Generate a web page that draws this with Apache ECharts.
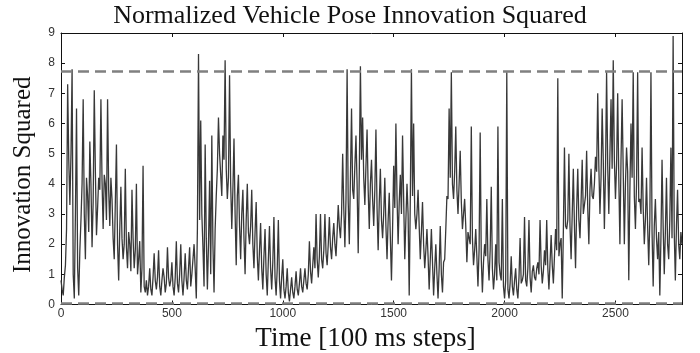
<!DOCTYPE html>
<html>
<head>
<meta charset="utf-8">
<script src="https://cdn.jsdelivr.net/npm/echarts@6/dist/echarts.min.js"></script>
<style>
  html, body { margin: 0; padding: 0; background: #fff; }
  #chart { width: 700px; height: 353px; }
</style>
</head>
<body>
<div id="chart"></div>
<script>
// Normalized innovation squared of the vehicle pose, sampled every 5 steps
const stepSize = 5;
const innovation = [
  0.8,0.5,0.3,0.9,1.3,2.5,7.3,4.8,3.3,5.0,7.8,1.0,0.2,3.0,6.5,1.2,0.3,1.8,2.8,4.0,
  6.8,3.0,1.5,4.2,3.6,2.4,5.4,4.0,1.9,3.4,7.1,4.4,2.3,3.2,4.2,3.8,6.8,4.1,2.5,4.3,
  4.0,2.8,6.8,3.8,2.6,4.2,3.5,2.2,1.5,3.4,5.3,2.0,0.8,2.5,3.9,2.2,1.5,2.0,4.5,1.9,
  1.2,2.4,2.0,1.1,3.8,2.2,1.2,1.8,4.0,1.0,1.5,2.1,0.4,1.2,4.6,0.6,0.4,0.8,0.3,0.6,
  1.2,0.5,0.3,0.9,1.7,0.8,0.5,0.9,1.8,0.6,0.3,0.8,1.2,0.9,0.4,0.7,1.9,0.9,0.6,0.8,
  1.4,0.6,0.3,0.9,2.1,0.7,0.4,1.0,2.0,0.8,0.3,0.9,1.7,0.8,0.5,1.2,1.9,0.6,1.0,1.5,
  2.0,1.2,0.2,2.5,8.3,2.8,6.1,3.0,1.9,0.6,5.3,2.2,0.5,2.0,4.1,1.0,5.6,2.0,0.4,2.5,
  3.6,4.5,6.2,5.0,4.3,3.6,5.6,4.8,8.1,4.5,3.5,4.2,7.6,4.0,2.5,3.8,5.5,3.0,1.3,3.6,
  4.3,2.6,1.5,3.0,3.8,2.2,1.0,2.8,4.0,2.4,2.0,2.6,3.8,2.0,1.2,2.4,3.4,1.6,0.8,1.8,
  2.7,1.2,0.5,1.6,2.5,1.0,0.3,1.5,2.6,1.2,0.5,1.4,2.9,0.9,0.3,1.2,2.8,0.8,0.2,0.9,
  1.5,0.5,0.2,0.6,1.2,0.4,0.1,0.5,0.9,0.4,0.2,0.6,1.1,0.5,0.3,0.7,1.2,0.6,0.4,0.8,
  1.2,0.7,0.5,1.0,2.1,1.1,0.7,1.3,1.9,1.2,3.0,1.5,0.9,1.6,3.0,1.5,1.2,1.8,3.0,1.7,
  1.3,2.0,2.9,1.9,1.5,2.2,2.7,2.0,1.6,2.4,3.3,2.6,2.2,3.0,5.0,3.2,1.9,3.5,7.8,3.4,
  2.0,4.2,6.5,3.8,3.5,4.6,5.6,4.0,1.7,4.4,7.9,4.8,6.2,4.2,3.3,4.6,5.8,3.8,2.5,4.0,
  4.8,3.5,2.6,3.8,5.8,3.2,1.8,3.4,4.5,2.8,2.2,3.0,4.2,2.6,1.5,2.8,3.7,2.2,0.8,2.5,
  4.6,3.2,6.0,3.6,2.0,3.4,4.3,3.0,5.6,3.5,1.5,2.8,4.0,3.0,0.3,3.5,7.8,3.6,6.0,3.0,
  2.5,3.0,3.8,2.6,1.5,2.4,3.4,2.0,1.2,1.8,2.5,1.6,0.5,1.5,2.5,1.4,0.3,1.2,2.0,1.0,
  0.2,1.2,2.6,1.0,0.4,1.4,1.5,2.5,3.6,3.5,6.5,4.2,7.7,4.0,3.5,4.4,5.9,3.8,3.0,4.0,
  5.1,3.4,2.5,3.0,3.5,2.6,1.4,2.4,2.2,2.0,5.9,2.2,1.3,1.8,2.5,1.6,0.6,1.8,5.7,1.5,
  0.4,1.4,2.0,1.6,3.5,1.5,0.8,1.8,3.9,1.2,0.5,1.0,2.0,0.8,5.9,1.4,1.0,0.8,3.5,0.6,
  0.2,0.8,7.7,0.5,0.2,0.7,1.6,0.6,0.3,0.8,1.2,0.5,0.2,0.9,2.2,0.7,0.8,1.0,2.9,0.8,
  0.6,1.2,2.8,0.9,0.4,1.1,1.3,0.9,0.8,1.2,1.4,1.0,2.8,1.3,0.7,1.1,1.8,1.3,2.8,1.2,
  0.5,1.4,2.3,1.3,0.7,1.6,2.5,1.8,7.5,1.6,2.0,2.2,0.2,2.4,5.2,2.6,2.5,2.8,5.0,2.6,
  1.5,3.0,4.5,2.6,1.2,3.2,4.5,2.8,2.2,3.4,4.8,3.0,3.0,3.6,5.1,3.2,2.0,3.8,4.5,3.6,
  3.5,4.0,4.9,4.4,7.0,4.6,3.0,4.2,6.5,4.8,2.5,4.4,7.7,4.6,3.0,5.0,6.8,4.5,8.1,4.8,
  3.5,4.6,7.0,4.2,2.0,4.8,6.8,4.4,2.0,4.0,5.2,4.4,0.8,3.8,6.0,4.2,7.7,3.6,2.5,4.0,
  7.7,3.4,3.5,3.0,5.2,3.2,2.0,2.8,4.2,2.6,1.3,2.8,7.7,2.4,0.6,2.6,3.5,2.2,1.5,2.4,
  0.3,2.2,4.8,2.6,1.0,2.4,4.2,2.0,1.5,2.8,5.2,2.2,8.9,2.4,0.8,2.6,3.8,2.0,1.5,2.4,
  2.0
];
// Consistency bounds drawn as dashed lines
const bounds = [7.73, 0.05];
// Axis ranges
const xRange = { min: 0, max: 2800, interval: 500 };
const yRange = { min: 0, max: 9, interval: 1 };

const titleText = 'Normalized Vehicle Pose Innovation Squared';
const xName = 'Time [100 ms steps]';
const yName = 'Innovation Squared';

const seriesData = innovation.map((v, i) => [i * stepSize, v]);

const labelStyle = { fontFamily: 'Liberation Sans', fontSize: 12, color: '#333' };
const serif = 'Liberation Serif';

const chart = echarts.init(document.getElementById('chart'), null, { renderer: 'canvas' });

function xAxisDef(pos, showLabels) {
  return {
    type: 'value', position: pos,
    min: xRange.min, max: xRange.max, interval: xRange.interval,
    name: showLabels ? xName : '',
    nameLocation: 'middle', nameGap: 21,
    nameTextStyle: { fontFamily: serif, fontSize: 27, color: '#111', padding: [0, 12, 0, 0] },
    axisLine: { show: true, onZero: false, lineStyle: { color: '#111', width: 1 } },
    axisTick: { show: true, inside: true, length: 4, lineStyle: { color: '#111' } },
    axisLabel: Object.assign({ show: showLabels, margin: 3, showMaxLabel: false,
      formatter: v => String(v) }, labelStyle),
    splitLine: { show: false }
  };
}
function yAxisDef(pos, showLabels) {
  return {
    type: 'value', position: pos,
    min: yRange.min, max: yRange.max, interval: yRange.interval,
    name: showLabels ? yName : '',
    nameLocation: 'middle', nameGap: 25,
    nameTextStyle: { fontFamily: serif, fontSize: 25, color: '#111', padding: [0, 12, 0, 0] },
    axisLine: { show: true, onZero: false, lineStyle: { color: '#111', width: 1 } },
    axisTick: { show: true, inside: true, length: 4, lineStyle: { color: '#111' } },
    axisLabel: Object.assign({ show: showLabels, margin: 6, padding: [0, 0, 3, 0] }, labelStyle),
    splitLine: { show: false }
  };
}

chart.setOption({
  animation: false,
  backgroundColor: '#fff',
  title: {
    text: titleText, left: 'center', top: -2,
    textStyle: { fontFamily: serif, fontSize: 26, fontWeight: 'normal', color: '#111' }
  },
  grid: { left: 61, right: 18, top: 33, bottom: 48.5, containLabel: false, outerBoundsMode: 'none' },
  xAxis: [xAxisDef('bottom', true), xAxisDef('top', false)],
  yAxis: [yAxisDef('left', true), yAxisDef('right', false)],
  series: [{
    type: 'line',
    data: seriesData,
    showSymbol: false,
    lineStyle: { color: '#383838', width: 1.3 },
    markLine: {
      silent: true,
      symbol: 'none',
      label: { show: false },
      lineStyle: { color: '#808080', width: 2.5, type: [11, 6] },
      data: bounds.map(b => ({ yAxis: b }))
    }
  }]
});
</script>
</body>
</html>
